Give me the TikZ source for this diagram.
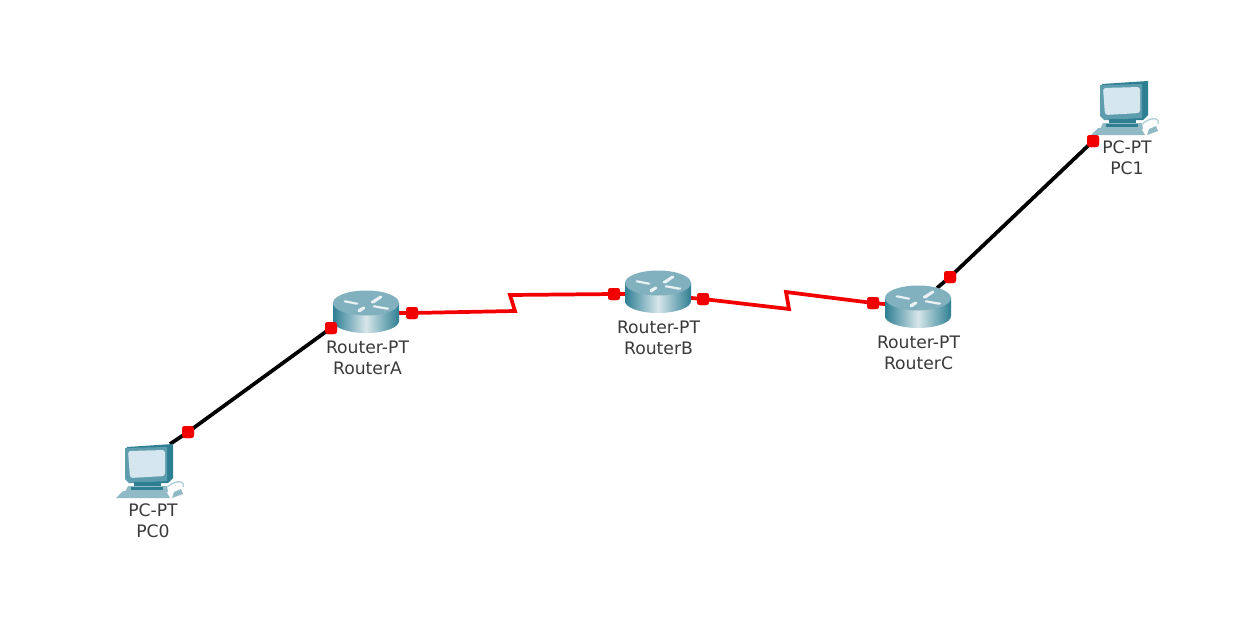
\documentclass[tikz,border=0pt]{standalone}
\usepackage{fontspec}
\setmainfont{DejaVu Sans}
\definecolor{teal1}{HTML}{5E9DAE}
\definecolor{teal2}{HTML}{2F7F93}
\definecolor{teal3}{HTML}{8FBAC6}
\definecolor{screen}{HTML}{D5E6EE}
\definecolor{lab}{HTML}{3A3A3A}
\definecolor{pred}{HTML}{F20000}
\tikzset{
  x=0.75pt,y=-0.75pt,
  lbl/.style={font=\fontsize{12.9pt}{15.8pt}\selectfont,text=lab,align=center,inner sep=0pt},
  port/.style={fill=pred,draw=none,minimum size=9pt,inner sep=0pt,rounded corners=2pt},
  ether/.style={line width=2.8pt,black},
  serial/.style={line width=2.8pt,pred},
  routericon/.pic={
    \shade[left color=teal2,right color=teal2,middle color=white!75!teal1]
      (-33,-8) -- (-33,10) arc[start angle=180,end angle=0,x radius=33,y radius=12] -- (33,-8) -- cycle;
    \fill[teal3!85!teal2] (0,-8) ellipse[x radius=33,y radius=12.5];
    \fill[white!80!teal3,rounded corners=1pt] (-22,-11) -- (-7,-8) -- (-8,-6) -- (-23,-9) -- cycle;
    \fill[white!80!teal3,rounded corners=1pt] (4,-9) -- (15,-16) -- (17,-14) -- (7,-7) -- cycle;
    \fill[white!80!teal3,rounded corners=1pt] (7,-6) -- (24,-3) -- (22,-1) -- (6,-4) -- cycle;
    \fill[white!80!teal3,rounded corners=1pt] (-9,-1) -- (-2,-5) -- (0,-3) -- (-7,2) -- cycle;
  },
  pcicon/.pic={
    % monitor side and body
    \fill[teal2] (2,2) -- (48,-1) -- (48,33) -- (43,38) -- (4,38) -- cycle;
    \fill[teal1] (0,3) -- (42,2) -- (42,36) -- (4,38) -- (0,34) -- cycle;
    \fill[screen,rounded corners=2pt] (3,6) -- (40,5) -- (40,31) -- (5,33) -- cycle;
    % stand
    \fill[teal2] (9,37) rectangle (36,42);
    % base
    \fill[teal3] (3,41) -- (42,41) -- (43,47) -- (0,47) -- cycle;
    \fill[teal2] (6,42) rectangle (38,45);
    % keyboard
    \fill[teal3] (-2,46) -- (41,46) -- (45,53) -- (-9,53) -- cycle;
    % mouse and cord
    \draw[teal3!70!white,line width=1pt] (42,42) .. controls (52,34) and (60,36) .. (58,42);
    \fill[teal3] (49,47) -- (56,44) -- (58,49) -- (47,53) -- cycle;
  }
}
\begin{document}
\begin{tikzpicture}
\useasboundingbox[fill=white] (0,0) rectangle (1242,632);
% device anchors
\coordinate (pc0c) at (170,444);
\coordinate (pc1c) at (1093,141);
\coordinate (rac) at (331,328);
\coordinate (rae) at (385,313);
\coordinate (rbw) at (640,294);
\coordinate (rbe) at (680,297);
\coordinate (rcw) at (895,305);
\coordinate (rcc) at (937,288);
% serial bends
\coordinate (s1) at (515,311);
\coordinate (s2) at (510,295);
\coordinate (s3) at (789,309);
\coordinate (s4) at (786,292);
% ports
\node[port] (pp0) at (188,432) {};
\node[port] (pa0) at (331,328) {};
\node[port] (pa1) at (412,313) {};
\node[port] (pb0) at (614,294) {};
\node[port] (pb1) at (703,299) {};
\node[port] (pc0) at (873,303) {};
\node[port] (pc1) at (950,277) {};
\node[port] (pp1) at (1093,141) {};
% links
\draw[ether] (pc0c) -- (pp0.center) -- (rac);
\draw[ether] (rcc) -- (pc1.center) -- (pc1c);
\draw[serial] (rae) -- (pa1.center) -- (s1) -- (s2) -- (pb0.center) -- (rbw);
\draw[serial] (rbe) -- (pb1.center) -- (s3) -- (s4) -- (pc0.center) -- (rcw);
% icons
\pic at (366,311) {routericon};
\pic at (658,291) {routericon};
\pic at (918,306) {routericon};
\pic at (125,445) {pcicon};
\pic at (1100,82) {pcicon};
% redraw ports above links and icons
\node[port] at (pp0) {};
\node[port] at (pa0) {};
\node[port] at (pa1) {};
\node[port] at (pb0) {};
\node[port] at (pb1) {};
\node[port] at (pc0) {};
\node[port] at (pc1) {};
\node[port] at (pp1) {};
% labels
\node[lbl] (la) at (367.5,357.5) {Router-PT\\RouterA};
\node[lbl] (lb) at (658.5,337.5) {Router-PT\\RouterB};
\node[lbl] (lc) at (918.5,352.5) {Router-PT\\RouterC};
\node[lbl] (l0) at (153,520.5) {PC-PT\\PC0};
\node[lbl] (l1) at (1127,157.5) {PC-PT\\PC1};
\end{tikzpicture}
\end{document}
